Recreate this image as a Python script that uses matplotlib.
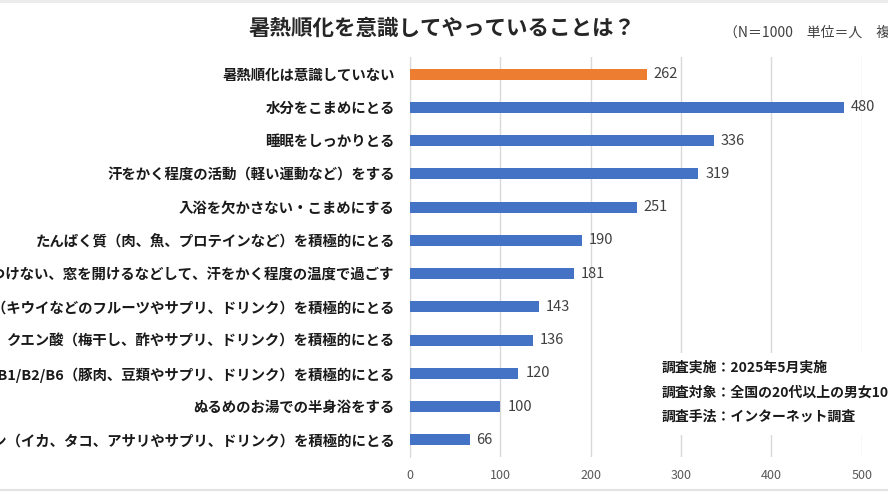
import matplotlib.pyplot as plt
from matplotlib.patches import Rectangle
from matplotlib.lines import Line2D

plt.rcParams['font.family'] = ['Noto Sans CJK JP', 'DejaVu Sans']

# 上から順に
labels = [
    '暑熱順化は意識していない',
    '水分をこまめにとる',
    '睡眠をしっかりとる',
    '汗をかく程度の活動（軽い運動など）をする',
    '入浴を欠かさない・こまめにする',
    'たんぱく質（肉、魚、プロテインなど）を積極的にとる',
    'エアコンをつけない、窓を開けるなどして、汗をかく程度の温度で過ごす',
    'ビタミンC（キウイなどのフルーツやサプリ、ドリンク）を積極的にとる',
    'クエン酸（梅干し、酢やサプリ、ドリンク）を積極的にとる',
    'ビタミンB1/B2/B6（豚肉、豆類やサプリ、ドリンク）を積極的にとる',
    'ぬるめのお湯での半身浴をする',
    'タウリン（イカ、タコ、アサリやサプリ、ドリンク）を積極的にとる',
]
values = [262, 480, 336, 319, 251, 190, 181, 143, 136, 120, 100, 66]
xticks = [0, 100, 200, 300, 400, 500]

title = '暑熱順化を意識してやっていることは？'
note = '（N＝1000　単位＝人　複数回答）'
survey = [
    '調査実施：2025年5月実施',
    '調査対象：全国の20代以上の男女1000人',
    '調査手法：インターネット調査',
]

blue = '#4472C4'
orange = '#ED7D31'
grid_c = '#D9D9D9'

fig = plt.figure(figsize=(8.88, 5), dpi=100)
ax = fig.add_axes([410 / 888, 1 - 456.6 / 500, 451.7 / 888, 399.2 / 500])

colors = [orange] + [blue] * (len(values) - 1)
pos = list(range(len(values)))
ax.barh(pos, values, height=0.33, color=colors, zorder=2)

for p, v in zip(pos, values):
    ax.annotate(str(v), (v, p), xytext=(5, 0), textcoords='offset points',
                va='center', ha='left', fontsize=10.5, color='#404040')

ax.set_ylim(len(values) - 0.5, -0.5)
ax.set_xlim(0, 500)
ax.set_xticks(xticks)
ax.set_xticklabels([str(t) for t in xticks], fontsize=9, color='#595959')
ax.set_yticks(pos)
ax.set_yticklabels(labels, fontsize=10.4, fontweight='bold', color='#1a1a1a')
ax.tick_params(axis='y', length=0, pad=11)
ax.tick_params(axis='x', length=0, pad=9)
ax.grid(axis='x', color=grid_c, linewidth=1, zorder=0)
for s in ['top', 'right', 'bottom']:
    ax.spines[s].set_visible(False)
ax.spines['left'].set_color(grid_c)
ax.spines['left'].set_zorder(1)

fig.text(442 / 888, 1 - 28 / 500, title, ha='center', va='center',
         fontsize=15.5, fontweight='bold', color='#262626')
fig.text(724 / 888, 1 - 33 / 500, note, ha='left', va='center',
         fontsize=10, color='#404040')

# 調査概要の白背景（グリッド線を隠す）
fig.patches.append(Rectangle((655 / 888, 1 - 435 / 500), 240 / 888, 82 / 500,
                             transform=fig.transFigure, facecolor='white',
                             edgecolor='none', zorder=1))
for i, line in enumerate(survey):
    fig.text(662 / 888, 1 - (368 + 24.5 * i) / 500, line, ha='left', va='center',
             fontsize=10, fontweight='bold', color='#1a1a1a', zorder=3)

# 枠線
fig.patches.append(Rectangle((0, 1 - 3 / 500), 1, 3 / 500, transform=fig.transFigure,
                             facecolor='#ECECEC', edgecolor='none'))
fig.lines.append(Line2D([0, 1], [1 - 490 / 500] * 2, transform=fig.transFigure,
                        color='#E3E3E3', linewidth=1.5))

fig.savefig('out.png', dpi=100)
